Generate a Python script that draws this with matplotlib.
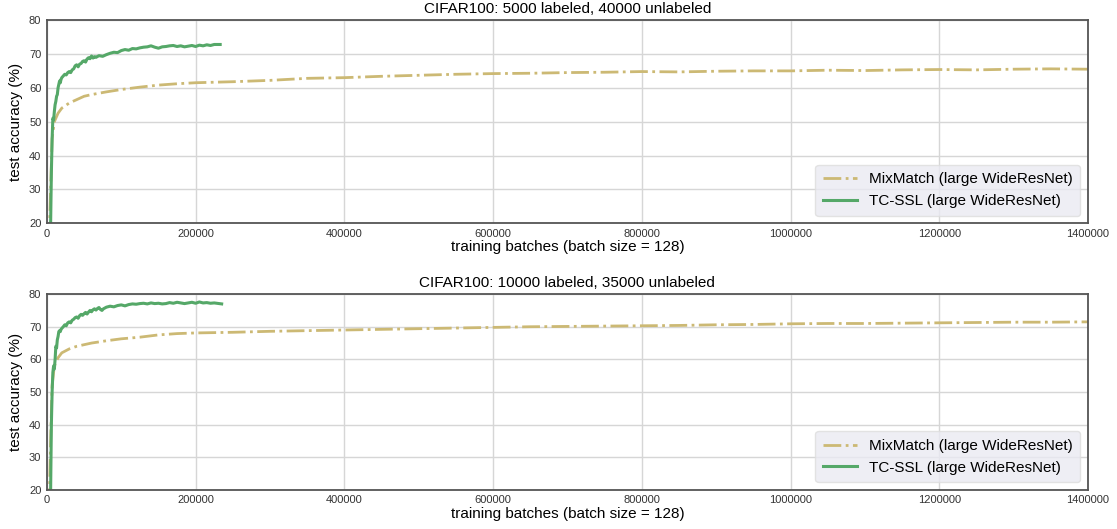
import numpy as np
import matplotlib.pyplot as plt

plt.rcParams['font.family'] = ['Liberation Sans', 'DejaVu Sans']

# x values in thousands of batches
# CIFAR100 5000 labeled
mm1_x = [3, 5, 7, 10, 15, 20, 30, 40, 50, 60, 80, 100, 125, 150, 175, 200,
         250, 300, 350, 400, 450, 500, 550, 600, 650, 700, 750, 800, 850, 900,
         950, 1000, 1050, 1100, 1150, 1200, 1250, 1300, 1350, 1400]
mm1_y = [15, 30, 45, 50, 52.5, 54, 55.5, 56.5, 57.5, 58, 58.8, 59.5, 60.2, 60.8, 61.2, 61.5,
         61.8, 62.2, 62.8, 63.0, 63.4, 63.7, 64.0, 64.2, 64.3, 64.5, 64.6, 64.8, 64.7, 64.9,
         65.0, 65.0, 65.2, 65.1, 65.3, 65.4, 65.3, 65.5, 65.6, 65.5]
tc1_x = [4, 5, 6, 7, 8, 9, 10, 11, 12, 13, 14, 15, 16, 17, 18, 19, 20, 22, 24, 26,
         28, 30, 32, 34, 36, 38, 40, 42, 44, 46, 48, 50, 52, 54, 56, 58, 60, 62, 64, 66,
         70, 75, 80, 85, 90, 95, 100, 105, 110, 115, 120, 125, 130, 135, 140, 145, 150, 155,
         160, 165, 170, 175, 180, 185, 190, 195, 200, 205, 210, 215, 220, 225, 233]
tc1_y = [10, 20, 35, 45, 51, 50.5, 53, 55, 56, 57.5, 58, 60, 61, 62, 61.5, 62.5, 63, 63.5, 64, 63.8,
         64.5, 64.8, 64.5, 65.3, 65.6, 66.5, 66.8, 66.2, 67, 67.2, 67.8, 68, 67.6, 68.5, 68.9, 68.6, 69.4, 68.8, 69.2, 69.0,
         69.5, 69.3, 69.8, 70.2, 70.5, 70.4, 71, 71.3, 71.1, 71.6, 71.5, 71.8, 72, 72.1, 72.4, 72.0, 71.7, 72.1,
         72.2, 72.4, 72.5, 72.2, 72.4, 72.1, 72.3, 72.5, 72.2, 72.6, 72.4, 72.7, 72.5, 72.8, 72.8]

# CIFAR100 10000 labeled
mm2_x = mm1_x
mm2_y = [15, 35, 52, 58, 60.5, 62, 63.2, 64, 64.5, 65, 65.7, 66.3, 66.8, 67.5, 67.9, 68.1,
         68.3, 68.6, 68.8, 69.0, 69.2, 69.4, 69.6, 69.8, 70.0, 70.1, 70.2, 70.3, 70.4, 70.6,
         70.7, 70.9, 71.0, 71.0, 71.1, 71.2, 71.3, 71.4, 71.4, 71.5]
tc2_x = [4, 5, 6, 7, 8, 9, 10, 11, 12, 13, 14, 15, 16, 17, 18, 19, 20, 22, 24, 26,
         28, 30, 32, 34, 36, 38, 40, 42, 44, 46, 48, 50, 52, 54, 56, 58, 60, 62, 64, 66,
         68, 70, 72, 74, 76, 80, 85, 90, 95, 100, 105, 110, 115, 120, 125, 130, 135, 140,
         145, 150, 155, 160, 165, 170, 175, 180, 185, 190, 195, 200, 205, 210, 215, 220, 225, 235]
tc2_y = [10, 20, 40, 50, 56, 58, 57, 60, 64, 63.5, 66, 67, 68.5, 68.8, 68.5, 69.2, 69.5, 70, 70.6, 70.3,
         71.2, 71.5, 71.2, 72, 72.3, 72.8, 73, 72.6, 73.4, 73.8, 73.5, 74, 74.4, 73.9, 74.5, 75, 74.6, 75.2, 75.5, 75.1,
         75.6, 75.9, 75.3, 75.0, 75.5, 76.0, 76.3, 76.1, 76.5, 76.7, 76.4, 76.8, 77.0, 76.9, 77.1, 77.2, 77.0, 77.3,
         77.1, 77.2, 77.0, 77.1, 77.4, 77.2, 77.5, 77.3, 77.1, 77.3, 77.5, 77.2, 77.6, 77.3, 77.4, 77.2, 77.3, 77.0]

titles = ['CIFAR100: 5000 labeled, 40000 unlabeled', 'CIFAR100: 10000 labeled, 35000 unlabeled']
data = [(mm1_x, mm1_y, tc1_x, tc1_y), (mm2_x, mm2_y, tc2_x, tc2_y)]

fig = plt.figure(figsize=(11.17, 5.29), dpi=100)
boxes = [[0.042, 0.578, 0.932, 0.384], [0.042, 0.074, 0.932, 0.370]]

for box, ttl, (mx, my, tx, ty) in zip(boxes, titles, data):
    ax = fig.add_axes(box)
    ax.plot(np.array(mx) * 1000, my, color='#CCB974', lw=2, ls='-.', label='MixMatch (large WideResNet)')
    ax.plot(np.array(tx) * 1000, ty, color='#55A868', lw=2.2, label='TC-SSL (large WideResNet)')
    ax.set_xlim(0, 1400000)
    ax.set_ylim(20, 80)
    ax.set_xticks([0, 200000, 400000, 600000, 800000, 1000000, 1200000, 1400000])
    ax.set_xticklabels(['0', '200000', '400000', '600000', '800000', '1000000', '1200000', '1400000'])
    ax.grid(True, color='#d6d6d6', lw=1)
    ax.set_axisbelow(True)
    for s in ax.spines.values():
        s.set_color('#555555')
        s.set_linewidth(1.3)
    ax.tick_params(length=0, labelsize=8, colors='#333333', pad=4)
    ax.set_title(ttl, fontsize=11, pad=5)
    ax.set_xlabel('training batches (batch size = 128)', fontsize=11, labelpad=1)
    ax.set_ylabel('test accuracy (%)', fontsize=11, labelpad=4)
    leg = ax.legend(loc='lower right', fontsize=11, facecolor='#EAEAF2', edgecolor='#dddddd',
                    framealpha=0.8, handlelength=2.2, borderpad=0.5)

fig.savefig('out.png', dpi=100)
